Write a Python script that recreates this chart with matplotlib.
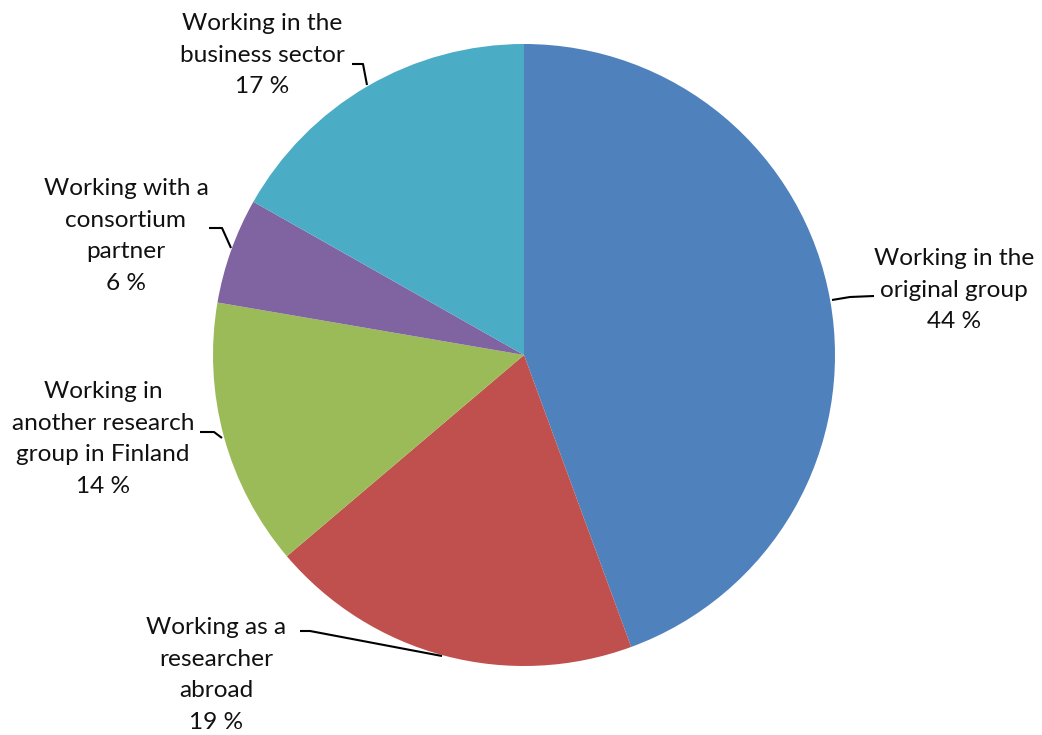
import matplotlib
matplotlib.use("Agg")
import matplotlib.pyplot as plt

categories = ["Working in the\noriginal group", "Working as a\nresearcher\nabroad",
              "Working in\nanother research\ngroup in Finland", "Working with a\nconsortium\npartner",
              "Working in the\nbusiness sector"]
values = [44.4, 19.4, 13.9, 5.5, 16.8]
colors = ["#4F81BD", "#C0504D", "#9BBB59", "#8064A2", "#4BACC6"]

W, H = 1042, 735
fig = plt.figure(figsize=(W / 100, H / 100), dpi=100)
ax = fig.add_axes([0, 0, 1, 1])

cx, cy, r = 524, H - 355, 311
ax.pie(values, colors=colors, startangle=90, counterclock=False,
       center=(cx, cy), radius=r, frame=True,
       wedgeprops=dict(linewidth=0))
ax.set_xlim(0, W)
ax.set_ylim(0, H)
ax.set_aspect("equal")
ax.axis("off")

# label positions (pixel coords, y from top) and leader polylines
label_pos = [(954, 290), (216, 675), (103, 439), (126, 236), (262, 55)]
leaders = [
    [(832, 300), (850, 297), (874, 296)],
    [(442, 656), (310, 631), (300, 631)],
    [(222, 438), (214, 432), (200, 432)],
    [(231, 248), (222, 228), (209, 228)],
    [(367, 85), (363, 64), (352, 64)],
]

for cat, v, (lx, ly), pts in zip(categories, values, label_pos, leaders):
    ax.text(lx, H - ly, f"{cat}\n{v:.0f} %", ha="center", va="center",
            fontsize=17.6, family="Lato", linespacing=1.62, color="#111111")
    xs = [p[0] for p in pts]
    ys = [H - p[1] for p in pts]
    ax.plot(xs, ys, color="black", lw=1.5, solid_capstyle="butt")

fig.savefig("out.png", dpi=100)
